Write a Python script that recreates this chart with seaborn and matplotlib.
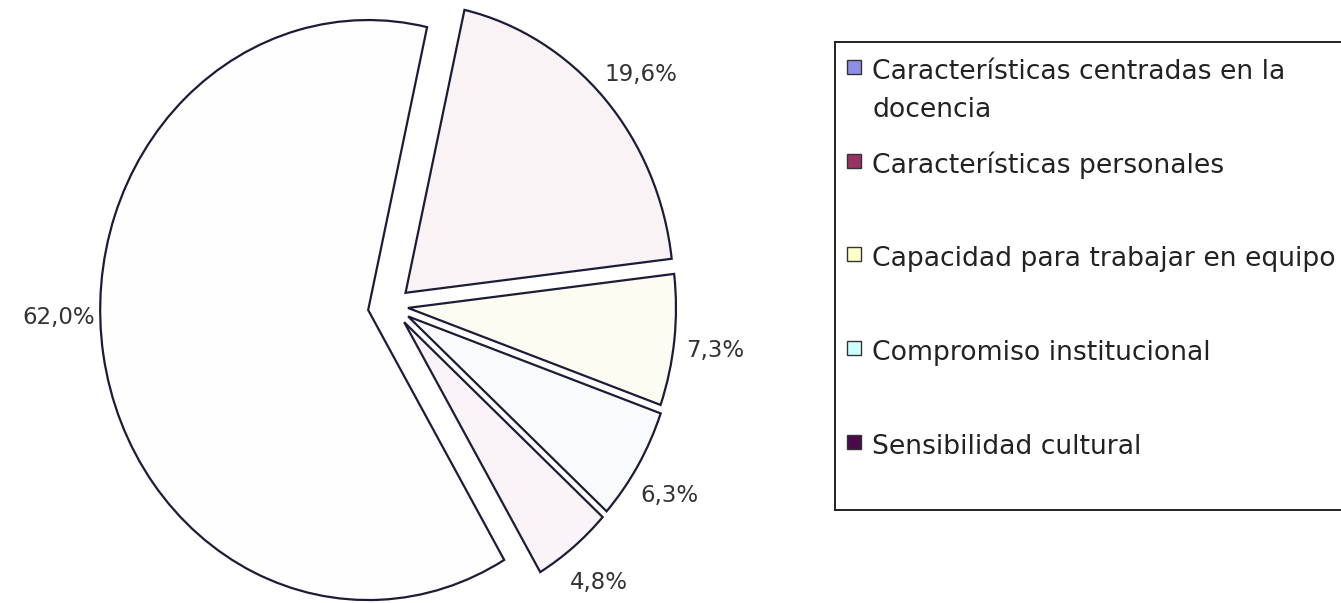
import matplotlib
matplotlib.use("Agg")
import matplotlib.pyplot as plt
from matplotlib.patches import Rectangle
import numpy as np
import seaborn as sns

# ---- data ----
categories = [
    "Características centradas en la\ndocencia",
    "Características personales",
    "Capacidad para trabajar en equipo",
    "Compromiso institucional",
    "Sensibilidad cultural",
]
values = [19.6, 7.3, 6.3, 4.8, 62.0]          # slices, clockwise
legend_colors = ["#8e8ee8", "#993366", "#ffffcc", "#ccffff", "#4a0a4a"]
slice_colors = ["#faf3f6", "#fcfcf3", "#f8fbfb", "#faf3f7", "#fefefe"]
explode = [0.068, 0.06, 0.07, 0.072, 0.09]
label_nudge = [1.3, 0.8, 1.4, 0.1, 7.0]        # degrees, clockwise

sns.set_theme(style="white")
plt.rcParams["font.family"] = ["DejaVu Sans"]

W, H = 1341, 603
fig = plt.figure(figsize=(W / 100, H / 100), dpi=100)
fig.patch.set_facecolor("white")

# pie axes (pixel-based layout, slightly stretched vertically like the source)
cx, cy, rx, ry = 392, 306, 268, 290
ax_w = 800
ax = fig.add_axes([0, 0, ax_w / W, 1])
wedges, texts, autotexts = ax.pie(
    values,
    explode=explode,
    colors=slice_colors,
    startangle=77.3,
    counterclock=False,
    autopct=lambda p: f"{p:.1f}%".replace(".", ","),
    pctdistance=1.155,
    wedgeprops=dict(edgecolor="#1c1c38", linewidth=1.6),
    textprops=dict(fontsize=16.5, color="#333333"),
)
ax.set_aspect("auto")
ax.set_xlim((0 - cx) / rx, (ax_w - cx) / rx)
ax.set_ylim((cy - H) / ry, cy / ry)
ax.axis("off")

for w, t, e, nd in zip(wedges, autotexts, explode, label_nudge):
    ang = np.deg2rad((w.theta1 + w.theta2) / 2 - nd)
    r = e + 1.155
    t.set_position((r * np.cos(ang), r * np.sin(ang)))
    t.set_ha("center")
    t.set_va("center")

# legend box (drawn as its own axes so entries keep fixed slots)
lx0, ly0, lx1, ly1 = 835, 42, 1400, 510
lax = fig.add_axes([lx0 / W, (H - ly1) / H, (lx1 - lx0) / W, (ly1 - ly0) / H])
lax.set_xlim(0, lx1 - lx0)
lax.set_ylim(ly1 - ly0, 0)
lax.set_xticks([])
lax.set_yticks([])
lax.set_facecolor("white")
for s in lax.spines.values():
    s.set_visible(True)
    s.set_color("#222222")
    s.set_linewidth(1.4)

base0, step, line_gap = 37, 93.7, 38
for i, (lab, col) in enumerate(zip(categories, legend_colors)):
    yb = base0 + i * step
    lax.add_patch(Rectangle((12, yb - 19), 14, 14, facecolor=col,
                            edgecolor="#333333", linewidth=1.0))
    for j, line in enumerate(lab.split("\n")):
        lax.text(37, yb + j * line_gap, line, va="baseline", ha="left",
                 fontsize=19.2, color="#222222")

fig.savefig("out.png", dpi=100, facecolor="white")
